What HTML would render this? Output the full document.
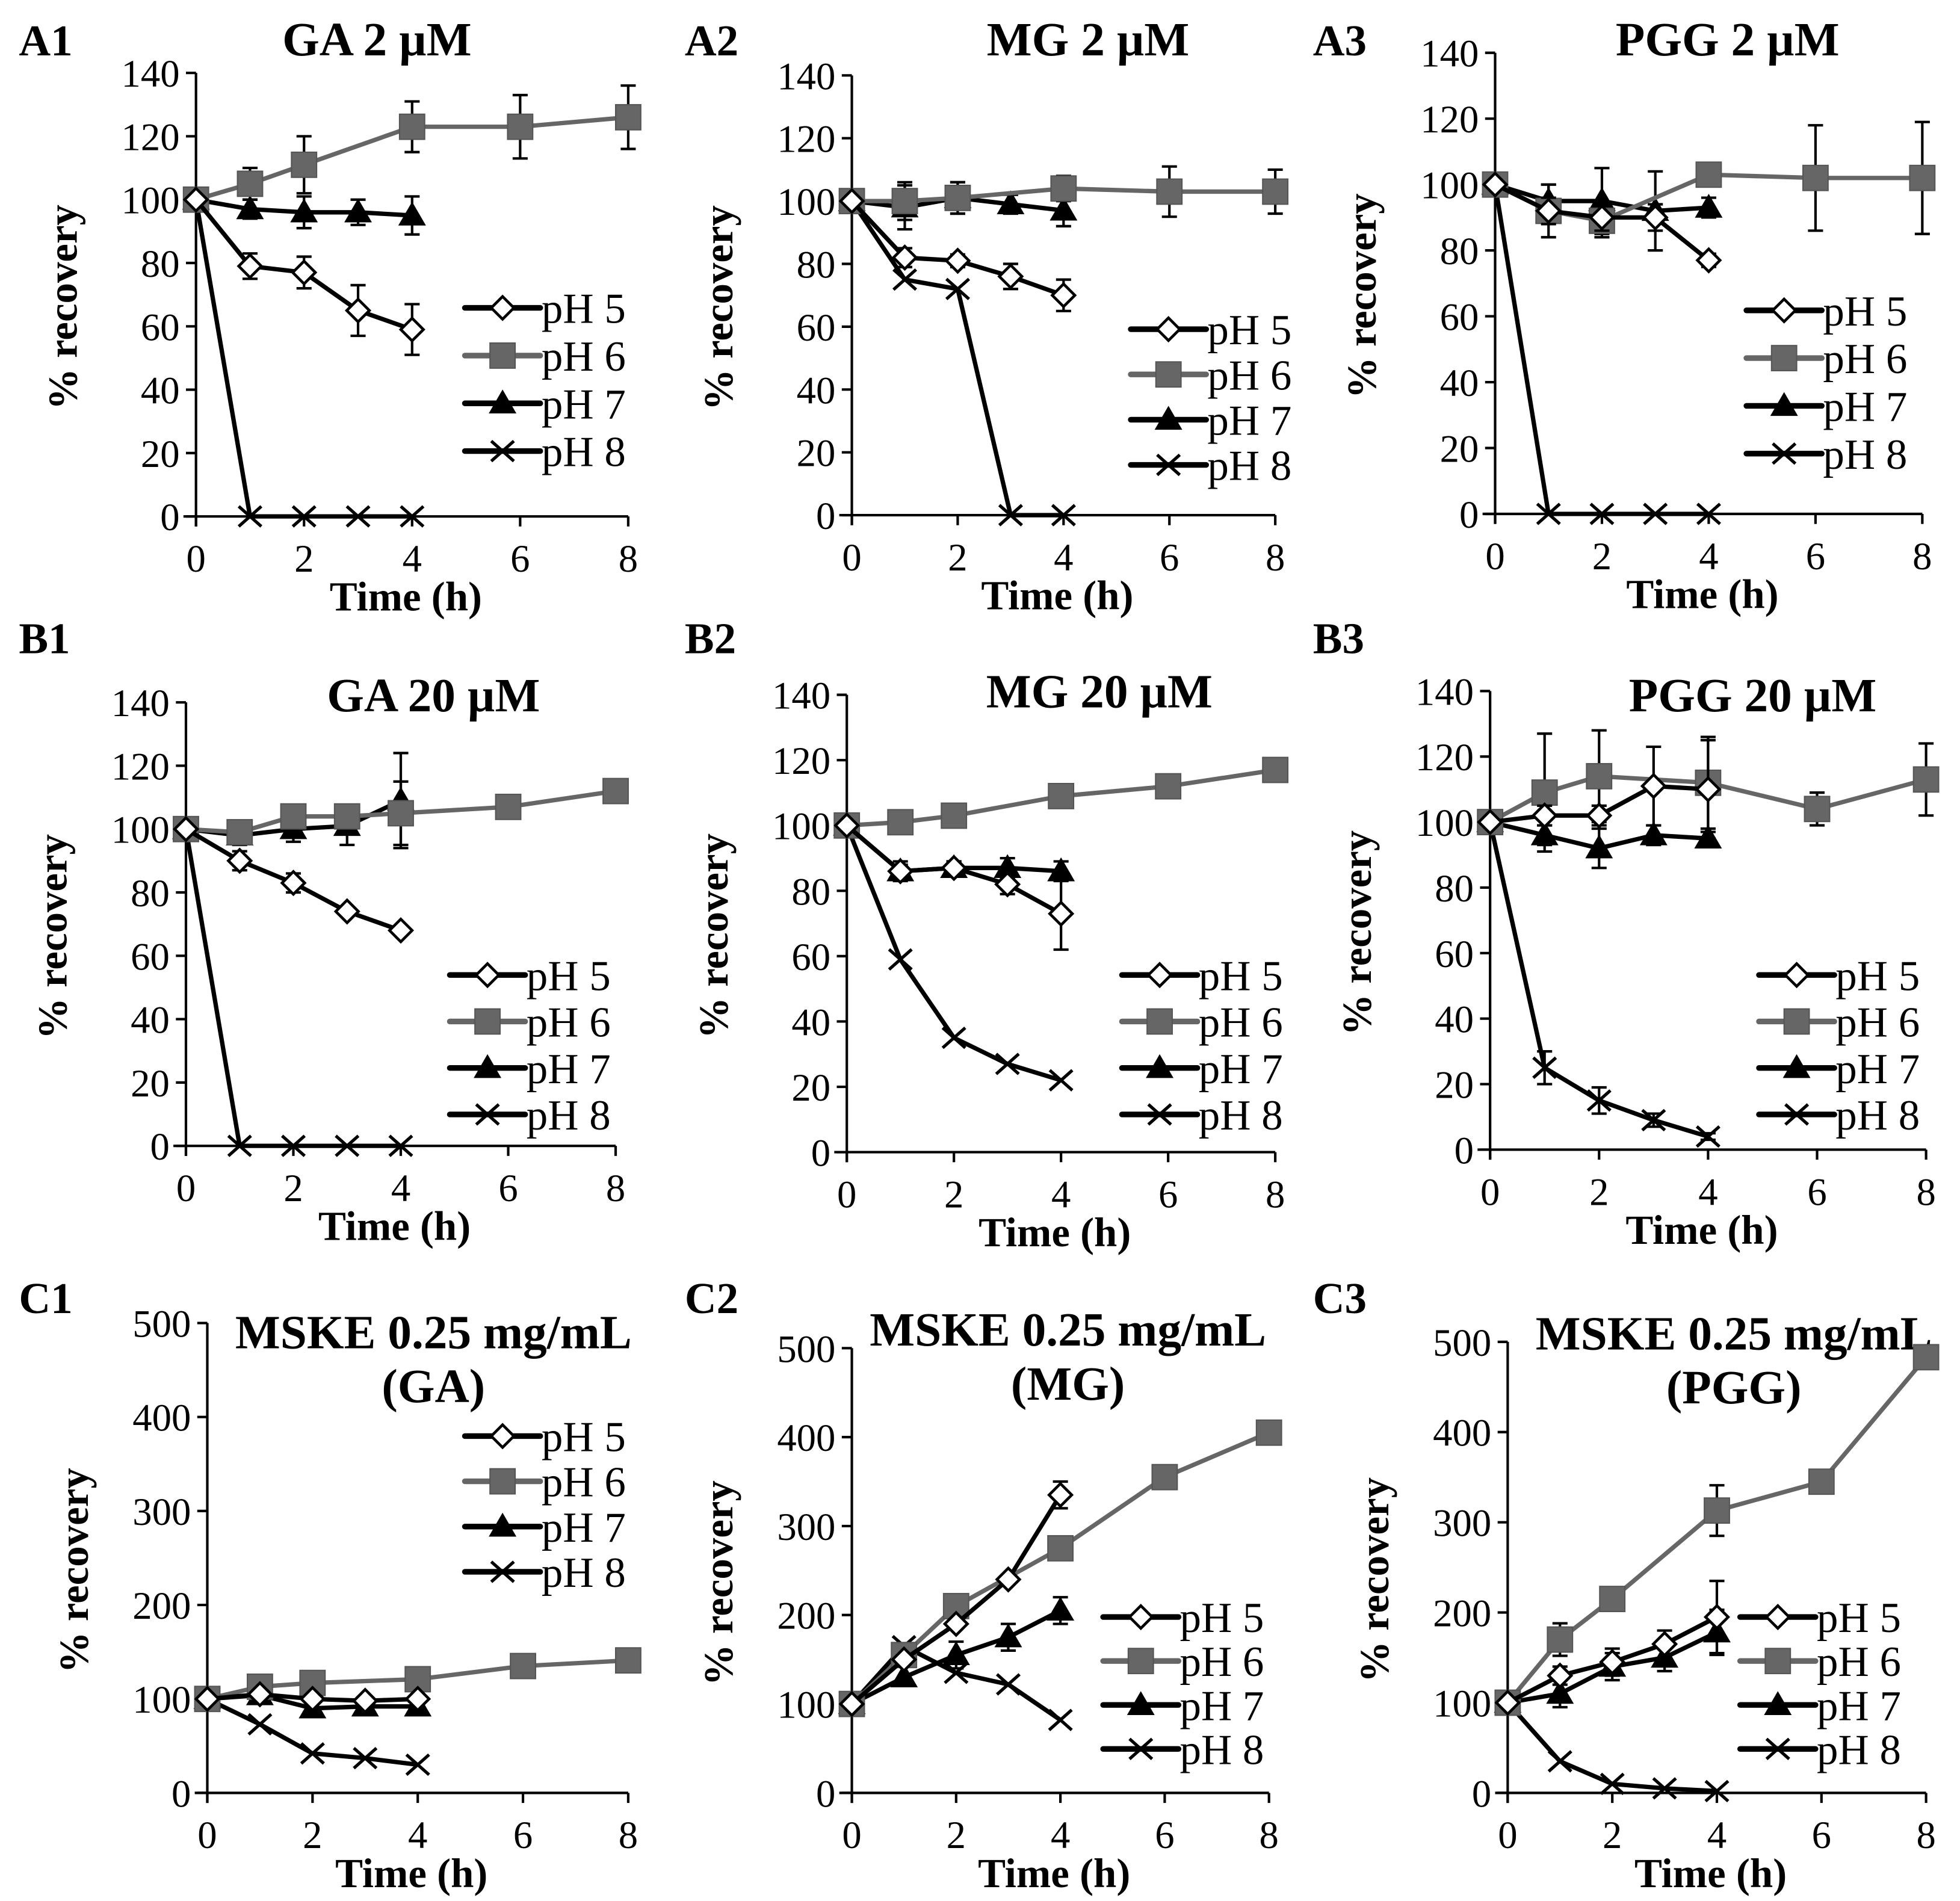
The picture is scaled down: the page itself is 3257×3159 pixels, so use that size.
<!DOCTYPE html>
<html><head><meta charset="utf-8"><style>html,body{margin:0;padding:0;background:#fff}svg{display:block}text{font-family:"Liberation Serif",serif}</style></head>
<body>
<svg id="fig" width="3257" height="3159" viewBox="0 0 1560 1513" xmlns="http://www.w3.org/2000/svg"></svg>
<script>
// ---- data (time points & values) ----
const t5=[0,1,2,3,4];
const tB1_6=[0,1,2,3,4,6,8];
const t6=[0,1,2,4,6,8];
const A1_5=[100,79,77,65,59], A1_5e=[0,4,5,8,8];
const A1_6=[100,105,111,123,123,126], A1_6e=[0,5,9,8,10,10];
const A1_7=[100,97,96,96,95], A1_7e=[0,3,5,4,6];
const A1_8=[100,0,0,0,0];
const A2_5=[100,82,81,76,70], A2_5e=[0,3,2,4,5];
const A2_6=[100,100,101,104,103,103], A2_6e=[0,6,5,4,8,7];
const A2_7=[100,98,101,99,97], A2_7e=[0,7,5,3,5];
const A2_8=[100,75,72,0,0];
const A3_5=[100,92,90,90,77], A3_5e=[0,4,4,4,2];
const A3_6=[100,92,89,103,102,102], A3_6e=[0,8,5,0,16,17];
const A3_7=[100,95,95,92,93], A3_7e=[0,5,10,12,3];
const A3_8=[100,0,0,0,0];
const B1_5=[100,90,83,74,68], B1_5e=[0,3,3,1,1];
const B1_6=[100,99,104,104,105,107,112], B1_6e=[0,0,2,3,10,2,2];
const B1_7=[100,98,100,101,109], B1_7e=[0,3,4,6,15];
const B1_8=[100,0,0,0,0];
const B2_5=[100,86,87,82,73], B2_5e=[0,3,2,3,11];
const B2_6=[100,101,103,109,112,117], B2_6e=[0,0,0,0,0,0];
const B2_7=[100,86,87,87,86], B2_7e=[0,2,2,3,3];
const B2_8=[100,59,35,27,22];
const B3_5=[100,102,102,111,110], B3_5e=[0,3,3,12,15];
const B3_6=[100,109,114,112,104,113], B3_6e=[0,18,14,14,5,11];
const B3_7=[100,96,92,96,95], B3_7e=[0,3,6,3,2];
const B3_8=[100,25,15,9,4], B3_8e=[0,5,4,2,1];
const C1_5=[100,105,100,98,100];
const C1_6=[100,113,117,121,135,141];
const C1_7=[100,104,90,92,92];
const C1_8=[100,73,42,37,30];
const C2_5=[100,150,190,240,335], C2_5e=[0,0,0,0,15];
const C2_6=[100,155,210,275,355,405];
const C2_7=[100,130,155,175,205], C2_7e=[0,0,15,15,15];
const C2_8=[100,165,135,122,82];
const C3_5=[100,130,145,165,195], C3_5e=[0,10,15,15,40];
const C3_6=[100,170,215,313,345,483], C3_6e=[0,18,0,28,0,0];
const C3_7=[100,110,140,150,178], C3_7e=[0,15,15,15,25];
const C3_8=[100,35,10,5,2];
const xTicks=[0,2,4,6,8];
const yTicksA=[0,20,40,60,80,100,120,140];
const yTicksC=[0,100,200,300,400,500];
const legendLabels=["pH 5","pH 6","pH 7","pH 8"];

const NS="http://www.w3.org/2000/svg";
const svg=document.getElementById('fig');
function mk(tag,attrs,parent){const e=document.createElementNS(NS,tag);for(const k in attrs)e.setAttribute(k,attrs[k]);(parent||svg).appendChild(e);return e;}

const panels=[
 {id:'A1',L:'A1',lx:15,ly:44,title:['GA 2 µM'],tx:300,ty:44,x0:156,x8:500,y0:411,yT:58,ticks:yTicksA,
  leg:[370,245,38],s:[[t5,A1_5,A1_5e],[t6,A1_6,A1_6e],[t5,A1_7,A1_7e],[t5,A1_8,null]]},
 {id:'A2',L:'A2',lx:545,ly:44,title:['MG 2 µM'],tx:866,ty:44,x0:678,x8:1015,y0:410,yT:60,ticks:yTicksA,
  leg:[900,262,36],s:[[t5,A2_5,A2_5e],[t6,A2_6,A2_6e],[t5,A2_7,A2_7e],[t5,A2_8,null]]},
 {id:'A3',L:'A3',lx:1045,ly:44,title:['PGG 2 µM'],tx:1375,ty:44,x0:1190,x8:1530,y0:409,yT:42,ticks:yTicksA,
  leg:[1390,247,38],s:[[t5,A3_5,A3_5e],[t6,A3_6,A3_6e],[t5,A3_7,A3_7e],[t5,A3_8,null]]},
 {id:'B1',L:'B1',lx:15,ly:520,title:['GA 20 µM'],tx:345,ty:566,x0:148,x8:490,y0:912,yT:559,ticks:yTicksA,
  leg:[358,776,37],s:[[t5,B1_5,B1_5e],[tB1_6,B1_6,B1_6e],[t5,B1_7,B1_7e],[t5,B1_8,null]]},
 {id:'B2',L:'B2',lx:545,ly:520,title:['MG 20 µM'],tx:875,ty:563,x0:674,x8:1015,y0:917,yT:553,ticks:yTicksA,
  leg:[893,776,37],s:[[t5,B2_5,B2_5e],[t6,B2_6,B2_6e],[t5,B2_7,B2_7e],[t5,B2_8,null]]},
 {id:'B3',L:'B3',lx:1045,ly:520,title:['PGG 20 µM'],tx:1395,ty:566,x0:1186,x8:1533,y0:915,yT:550,ticks:yTicksA,
  leg:[1400,776,37],s:[[t5,B3_5,B3_5e],[t6,B3_6,B3_6e],[t5,B3_7,B3_7e],[t5,B3_8,B3_8e]]},
 {id:'C1',L:'C1',lx:15,ly:1045,title:['MSKE 0.25 mg/mL','(GA)'],tx:345,ty:1073,x0:165,x8:500,y0:1427,yT:1053,ticks:yTicksC,
  leg:[370,1143,36],s:[[t5,C1_5,null],[t6,C1_6,null],[t5,C1_7,null],[t5,C1_8,null]]},
 {id:'C2',L:'C2',lx:545,ly:1045,title:['MSKE 0.25 mg/mL','(MG)'],tx:850,ty:1071,x0:678,x8:1010,y0:1427,yT:1073,ticks:yTicksC,
  leg:[878,1287,35],s:[[t5,C2_5,C2_5e],[t6,C2_6,null],[t5,C2_7,C2_7e],[t5,C2_8,null]]},
 {id:'C3',L:'C3',lx:1045,ly:1045,title:['MSKE 0.25 mg/mL','(PGG)'],tx:1380,ty:1074,x0:1200,x8:1533,y0:1427,yT:1068,ticks:yTicksC,
  leg:[1385,1287,35],s:[[t5,C3_5,C3_5e],[t6,C3_6,C3_6e],[t5,C3_7,C3_7e],[t5,C3_8,null]]}
];
const colors=['#000','#666','#000','#000'];

function marker(g,k,x,y){
  if(k===0) mk('path',{d:`M${x} ${y-9}L${x+9} ${y}L${x} ${y+9}L${x-9} ${y}Z`,fill:'#fff',stroke:'#000','stroke-width':2.2},g);
  else if(k===1) mk('rect',{x:x-10,y:y-10,width:20,height:20,fill:'#666',stroke:'#555','stroke-width':1},g);
  else if(k===2) mk('path',{d:`M${x} ${y-11}L${x+11} ${y+8}L${x-11} ${y+8}Z`,fill:'#000'},g);
  else mk('path',{d:`M${x-9} ${y-8}L${x+9} ${y+8}M${x-9} ${y+8}L${x+9} ${y-8}`,stroke:'#000','stroke-width':2.5,fill:'none'},g);
}

panels.forEach(p=>{
  const g=mk('g',{});
  
  
  const ymax=p.ticks[p.ticks.length-1];
  const X=t=>p.x0+(p.x8-p.x0)*t/8;
  const Y=v=>p.y0-(p.y0-p.yT)*v/ymax;
  const lt=mk('text',{x:p.lx,y:p.ly,'font-size':35,'font-weight':'bold'},g);lt.textContent=p.L;
  
  
  p.title.forEach((s,i)=>{const t=mk('text',{x:p.tx,y:p.ty+i*43,'text-anchor':'middle','font-size':38,'font-weight':'bold'},g);t.textContent=s;
    
    });
  const ax=mk('g',{stroke:'#000','stroke-width':2,fill:'none'},g);
  
  
  mk('line',{x1:p.x0,y1:p.yT,x2:p.x0,y2:p.y0+8},ax);
  mk('line',{x1:p.x0-10,y1:p.y0,x2:p.x8,y2:p.y0},ax);
  p.ticks.forEach(v=>{mk('line',{x1:p.x0-8,y1:Y(v),x2:p.x0,y2:Y(v)},ax);
    const t=mk('text',{x:p.x0-13,y:Y(v)+11,'text-anchor':'end','font-size':31},g);t.textContent=v;
    
    });
  xTicks.forEach(v=>{mk('line',{x1:X(v),y1:p.y0,x2:X(v),y2:p.y0+8},ax);
    const t=mk('text',{x:X(v),y:p.y0+44,'text-anchor':'middle','font-size':31},g);t.textContent=v;
    
    });
  const xt=mk('text',{x:(p.x0+p.x8)/2-5,y:p.y0+75,'text-anchor':'middle','font-size':33,'font-weight':'bold'},g);xt.textContent='Time (h)';
  
  
  const yc=(p.y0+p.yT)/2+10, yx=p.x0-95;
  const yt=mk('text',{x:yx,y:yc,'text-anchor':'middle','font-size':33,'font-weight':'bold',transform:`rotate(-90 ${yx} ${yc})`},g);yt.textContent='% recovery';
  
  
  [3,2,1,0].forEach(k=>{
    const [ts,vs,es]=p.s[k];
    const sg=mk('g',{},g);
    
    
    if(es) es.forEach((e,i)=>{ if(e>0){const x=X(ts[i]);
      mk('path',{d:`M${x} ${Y(vs[i]-e)}V${Y(vs[i]+e)}M${x-6} ${Y(vs[i]-e)}H${x+6}M${x-6} ${Y(vs[i]+e)}H${x+6}`,stroke:'#000','stroke-width':2,fill:'none'},sg);}});
    mk('polyline',{points:ts.map((t,i)=>X(t)+','+Y(vs[i])).join(' '),fill:'none',stroke:colors[k],'stroke-width':3.5,'stroke-linejoin':'round'},sg);
    ts.forEach((t,i)=>marker(sg,k,X(t),Y(vs[i])));
  });
  const [lx,ly,dy]=p.leg;
  legendLabels.forEach((s,k)=>{
    const lg=mk('g',{},g);
    
    
    const y=ly+k*dy;
    mk('line',{x1:lx,y1:y,x2:lx+60,y2:y,stroke:colors[k],'stroke-width':4.5,'stroke-linecap':'round'},lg);
    marker(lg,k,lx+30,y);
    const t=mk('text',{x:lx+61,y:y+12,'font-size':34},lg);t.textContent=s;
  });
});
</script>
</body></html>
